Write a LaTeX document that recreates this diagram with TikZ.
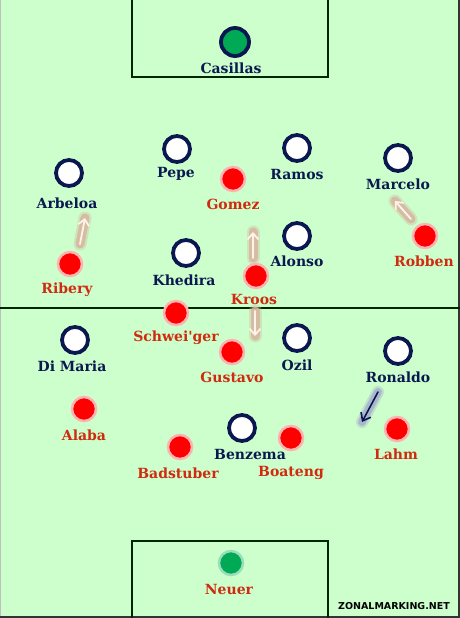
\documentclass[tikz,border=0pt]{standalone}
\usepackage{fontspec}
\setmainfont{DejaVu Serif}
\newfontfamily\labfont{DejaVu Serif}
\newfontfamily\wmfont{DejaVu Sans}
\usetikzlibrary{arrows.meta}
\definecolor{pitch}{HTML}{CCFFCC}
\definecolor{navy}{HTML}{0B1850}
\definecolor{redlab}{HTML}{D02A10}
\definecolor{redfill}{HTML}{FF0000}
\definecolor{gkgreen}{HTML}{00AA55}
\definecolor{glowtan}{HTML}{D6B49C}
\definecolor{glowblue}{HTML}{A4AACC}
\definecolor{arrowwhite}{HTML}{FFF2EA}
\tikzset{
  blueplayer/.style={circle, draw=navy, line width=3.8pt, fill=white, minimum size=26pt, inner sep=0pt},
  redplayer/.style={circle, draw=white!70!redfill, line width=2.5pt, fill=redfill, minimum size=24pt, inner sep=0pt},
  gkblue/.style={circle, draw=navy, line width=3.8pt, fill=gkgreen, minimum size=28pt, inner sep=0pt},
  gkred/.style={circle, draw=white!60!gkgreen, line width=2.5pt, fill=gkgreen, minimum size=24pt, inner sep=0pt},
  bluelab/.style={text=navy, font=\labfont\fontsize{14}{16}\selectfont\bfseries, inner sep=0pt},
  redlabel/.style={text=redlab, font=\labfont\fontsize{14}{16}\selectfont\bfseries, inner sep=0pt},
  pitchline/.style={draw=black!85!green, line width=2pt},
  runglowout/.style={glowtan, line width=13pt, line cap=round, opacity=0.35},
  runglow/.style={glowtan, line width=9pt, line cap=round, opacity=0.8},
  runarrow/.style={arrowwhite, line width=1.8pt, line cap=round, -{Straight Barb[length=6pt,width=11pt,line width=1.8pt]}},
  runglowblueout/.style={glowblue, line width=12pt, line cap=round, opacity=0.35},
  runglowblue/.style={glowblue, line width=8pt, line cap=round, opacity=0.75},
  runarrowblue/.style={navy, line width=1.6pt, line cap=round, -{Straight Barb[length=7pt,width=11pt]}}
}
\begin{document}
\begin{tikzpicture}[x=1pt,y=-1pt]
\fill[pitch] (0,0) rectangle (460,618);
\useasboundingbox (0,0) rectangle (460,618);
% frame
\draw[black!25, line width=1pt] (0.5,618) -- (0.5,0);
\draw[black!80, line width=2pt] (459,0) -- (459,617) -- (0,617);
% pitch markings
\draw[pitchline] (132,0) -- (132,77) -- (328,77) -- (328,0);
\draw[pitchline] (132,618) -- (132,541) -- (328,541) -- (328,618);
\draw[pitchline] (0,308) -- (460,308);

% run arrows
\coordinate (a1s) at (80,244); \coordinate (a1e) at (85,218);
\coordinate (a2s) at (253,258); \coordinate (a2e) at (253,232);
\coordinate (a3s) at (411,219); \coordinate (a3e) at (395,201);
\coordinate (a4s) at (255,311); \coordinate (a4e) at (255,336);
\coordinate (a5s) at (378,392); \coordinate (a5e) at (362,422);
\foreach \s/\e in {a1s/a1e,a2s/a2e,a3s/a3e,a4s/a4e}{
  \draw[runglowout] (\s) -- (\e);
  \draw[runglow] (\s) -- (\e);
  \draw[runarrow] (\s) -- (\e);
}
\draw[runglowblueout] (a5s) -- (a5e);
\draw[runglowblue] (a5s) -- (a5e);
\draw[runarrowblue] (a5s) -- (a5e);

% Real Madrid (blue)
\node[gkblue] (casillas) at (235,42) {};
\node[bluelab] (casillasl) at (231,68) {Casillas};
\node[blueplayer] (pepe) at (177,149) {};
\node[bluelab] (pepel) at (176,174) {Pepe};
\node[blueplayer] (ramos) at (297,148) {};
\node[bluelab] (ramosl) at (297,174) {Ramos};
\node[blueplayer] (arbeloa) at (69,173) {};
\node[bluelab] (arbeloal) at (67,203) {Arbeloa};
\node[blueplayer] (marcelo) at (398,158) {};
\node[bluelab] (marcelol) at (398,184) {Marcelo};
\node[blueplayer] (khedira) at (186,253) {};
\node[bluelab] (khedriral) at (184,280) {Khedira};
\node[blueplayer] (alonso) at (297,236) {};
\node[bluelab] (alonsol) at (297,261) {Alonso};
\node[blueplayer] (dimaria) at (75,340) {};
\node[bluelab] (dimarial) at (72,366) {Di Maria};
\node[blueplayer] (ozil) at (297,338) {};
\node[bluelab] (ozill) at (297,365) {Ozil};
\node[blueplayer] (ronaldo) at (398,351) {};
\node[bluelab] (ronaldol) at (398,377) {Ronaldo};
\node[blueplayer] (benzema) at (242,428) {};
\node[bluelab] (benzemal) at (250,454) {Benzema};

% Bayern (red)
\node[redplayer] (gomez) at (233,179) {};
\node[redlabel] (gomezl) at (233,204) {Gomez};
\node[redplayer] (ribery) at (70,264) {};
\node[redlabel] (riberyl) at (67,290) {Ribery};
\node[redplayer] (kroos) at (256,276) {};
\node[redlabel] (kroosl) at (254,299) {Kroos};
\node[redplayer] (robben) at (425,236) {};
\node[redlabel] (robbenl) at (424,261) {Robben};
\node[redplayer] (schw) at (176,313) {};
\node[redlabel] (schwl) at (176,338) {Schwei'ger};
\node[redplayer] (gustavo) at (232,352) {};
\node[redlabel] (gustavol) at (232,377) {Gustavo};
\node[redplayer] (alaba) at (84,409) {};
\node[redlabel] (alabal) at (84,435) {Alaba};
\node[redplayer] (badstuber) at (180,447) {};
\node[redlabel] (badstuberl) at (178,473) {Badstuber};
\node[redplayer] (boateng) at (291,438) {};
\node[redlabel] (boatengl) at (291,473) {Boateng};
\node[redplayer] (lahm) at (397,429) {};
\node[redlabel] (lahml) at (396,454) {Lahm};
\node[gkred] (neuer) at (231,563) {};
\node[redlabel] (neuerl) at (229,589) {Neuer};

% watermark
\node[font=\wmfont\fontsize{9.5}{10}\selectfont\bfseries, inner sep=0pt] (wm) at (394,606) {ZONALMARKING.NET};
\end{tikzpicture}
\end{document}
